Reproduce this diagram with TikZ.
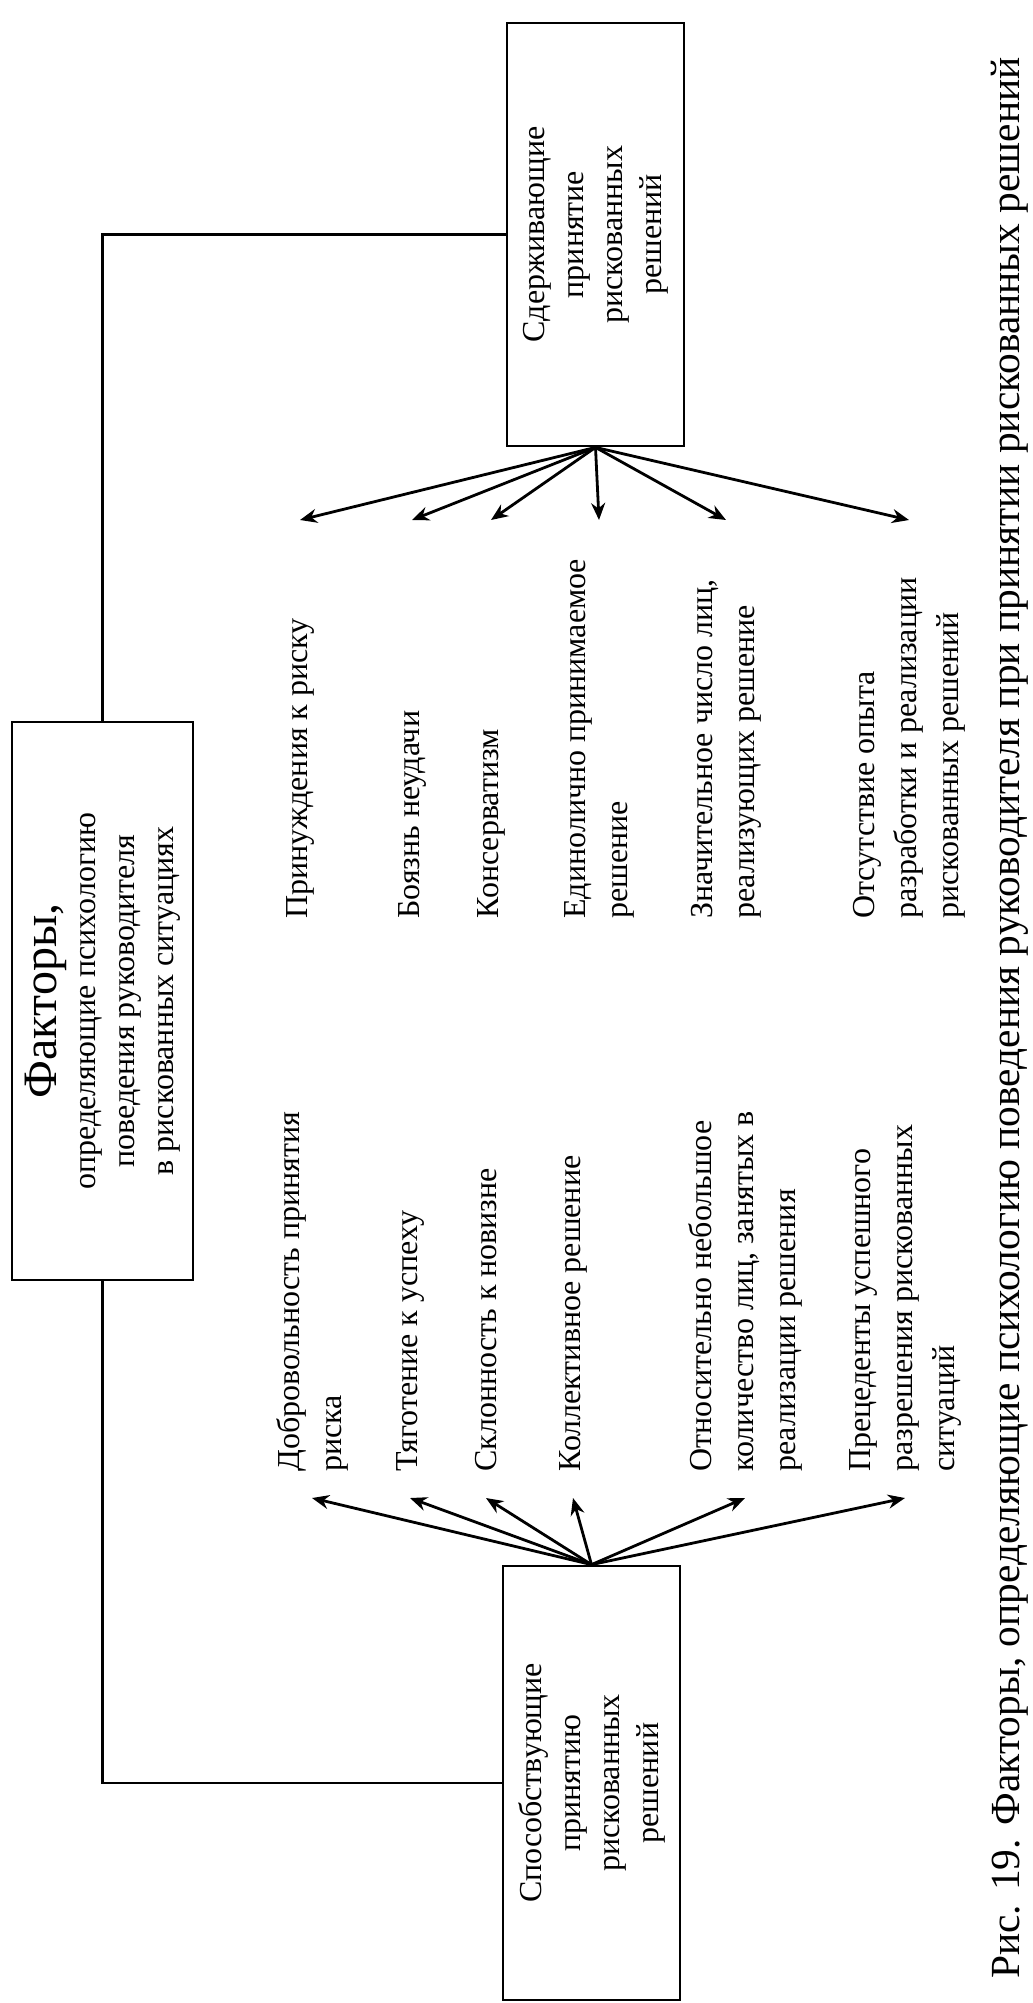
\documentclass[tikz,border=0pt]{standalone}
\usepackage{fontspec}
\setmainfont{Liberation Serif}
\usepackage{tikz}
\usetikzlibrary{arrows.meta}
\tikzstyle{block} = [rectangle, draw=black, line width=1.4pt, rotate=90, align=center, inner sep=0pt, font=\fontsize{16}{19.5}\selectfont]
\tikzstyle{item} = [rotate=90, anchor=west, align=left, inner sep=0pt, font=\fontsize{16}{21}\selectfont]
\tikzstyle{link} = [line width=1.4pt]
\tikzstyle{arrow} = [line width=1.4pt, -{Stealth[length=8.5pt, width=7pt]}]

\begin{document}
\begin{tikzpicture}[x=0.5pt, y=-0.5pt]
\useasboundingbox (0,0) rectangle (1033,2003);

% Main blocks, text turned to read upwards
\node (factors) [block, minimum width=279pt, minimum height=90.5pt] at (102.5,1001) {{\fontsize{24}{28}\selectfont Факторы,}\\определяющие психологию\\поведения руководителя\\в рискованных ситуациях};
\node (hold) [block, minimum width=211.5pt, minimum height=88.5pt] at (595.5,234.5) {Сдерживающие\\принятие\\рискованных\\решений};
\node (promote) [block, minimum width=217pt, minimum height=88.5pt] at (591.5,1783) {Способствующие\\принятию\\рискованных\\решений};

% Factors holding back
\node (rA) [item] at (300,919) {Принуждения к риску};
\node (rB) [item] at (412,919) {Боязнь неудачи};
\node (rC) [item] at (491,919) {Консерватизм};
\node (rD) [item] at (599,919) {Единолично принимаемое\\решение};
\node (rE) [item] at (726,919) {Значительное число лиц,\\реализующих решение};
\node (rF) [item] at (909,919) {Отсутствие опыта\\разработки и реализации\\рискованных решений};

% Factors promoting
\node (lA) [item] at (312,1472) {Добровольность принятия\\риска};
\node (lB) [item] at (410,1472) {Тяготение к успеху};
\node (lC) [item] at (486,1472) {Склонность к новизне};
\node (lD) [item] at (573,1472) {Коллективное решение};
\node (lE) [item] at (745,1472) {Относительно небольшое\\количество лиц, занятых в\\реализации решения};
\node (lF) [item] at (905,1472) {Прецеденты успешного\\разрешения рискованных\\ситуаций};

% Caption
\node (caption) [rotate=90, font=\fontsize{20.7}{25}\selectfont] at (1010,1018) {Рис. 19. Факторы, определяющие психологию поведения руководителя при принятии рискованных решений};

% Where the arrow tips stop
\coordinate (holdtip) at (0,520);
\coordinate (promotetip) at (0,1498);

% Links to the central block
\draw [link] (hold.north) -| (factors.east);
\draw [link] (promote.north) -| (factors.west);

% Fan of arrows from each block
\draw [arrow] (hold.west) -- (rA |- holdtip);
\draw [arrow] (hold.west) -- (rB |- holdtip);
\draw [arrow] (hold.west) -- (rC |- holdtip);
\draw [arrow] (hold.west) -- (rD |- holdtip);
\draw [arrow] (hold.west) -- (rE |- holdtip);
\draw [arrow] (hold.west) -- (rF |- holdtip);
\draw [arrow] (promote.east) -- (lA |- promotetip);
\draw [arrow] (promote.east) -- (lB |- promotetip);
\draw [arrow] (promote.east) -- (lC |- promotetip);
\draw [arrow] (promote.east) -- (lD |- promotetip);
\draw [arrow] (promote.east) -- (lE |- promotetip);
\draw [arrow] (promote.east) -- (lF |- promotetip);

\end{tikzpicture}
\end{document}
